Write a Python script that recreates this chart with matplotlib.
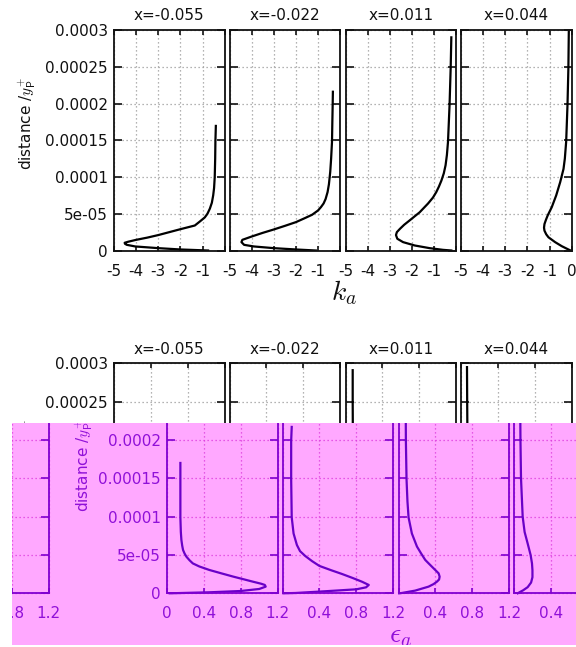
import matplotlib
matplotlib.use('Agg')
import matplotlib.pyplot as plt
from matplotlib.patches import Rectangle
from matplotlib.transforms import Bbox, TransformedBbox

plt.rcParams['font.family'] = ['DejaVu Sans']
plt.rcParams['mathtext.fontset'] = 'cm'
plt.rcParams['axes.unicode_minus'] = False

W, H = 576, 647

# ---------------- data ----------------
stations = ['x=-0.055', 'x=-0.022', 'x=0.011', 'x=0.044']

ytick_vals = [0, 5e-5, 1e-4, 1.5e-4, 2e-4, 2.5e-4, 3e-4]
ytick_labels = ['0', '5e-05', '0.0001', '0.00015', '0.0002', '0.00025', '0.0003']
# labels of the untinted lower row that stay above the tinted band
ytick_labels_upper_only = ['', '', '', '', '', '0.00025', '0.0003']

ka_ticks = [-5, -4, -3, -2, -1, 0]
ka_labels_inner = ['-5', '-4', '-3', '-2', '-1', '']
ka_labels_last = ['-5', '-4', '-3', '-2', '-1', '0']

eps_ticks = [0, 0.4, 0.8, 1.2]
eps_labels_first = ['0', '0.4', '0.8', '1.2']
eps_labels_other = ['', '0.4', '0.8', '1.2']
eps_labels_none = ['', '', '', '']

# k_a profiles (distance, value)
ka1_d = [1.695e-4, 1.48e-4, 1.25e-4, 1.0e-4, 8.5e-5, 7.5e-5, 6.5e-5, 5.7e-5, 5.0e-5, 4.5e-5,
         4.0e-5, 3.4e-5, 2.9e-5, 2.5e-5, 2.1e-5, 1.75e-5, 1.45e-5, 1.2e-5, 1.05e-5, 9e-6,
         7.7e-6, 5.5e-6, 3.2e-6, 1.4e-6, 0]
ka1_v = [-0.40, -0.42, -0.43, -0.45, -0.48, -0.52, -0.58, -0.67, -0.78, -0.90,
         -1.10, -1.35, -2.0, -2.5, -3.0, -3.5, -4.0, -4.35, -4.52, -4.50,
         -4.42, -4.04, -3.0, -2.0, -0.75]

ka2_d = [2.16e-4, 1.98e-4, 1.75e-4, 1.48e-4, 1.25e-4, 1.07e-4, 9.0e-5, 7.95e-5, 7.0e-5, 6.4e-5,
         5.9e-5, 5.45e-5, 4.86e-5, 4.4e-5, 3.86e-5, 3.35e-5, 2.86e-5, 2.4e-5, 1.9e-5, 1.45e-5,
         1.14e-5, 7.7e-6, 5.5e-6, 3.2e-6, 1.4e-6, 0]
ka2_v = [-0.33, -0.34, -0.355, -0.37, -0.41, -0.45, -0.51, -0.57, -0.66, -0.75,
         -0.87, -1.0, -1.27, -1.6, -2.0, -2.5, -3.0, -3.5, -4.0, -4.42,
         -4.46, -4.34, -3.9, -3.0, -2.0, -1.1]

ka3_d = [2.9e-4, 2.48e-4, 1.98e-4, 1.48e-4, 1.3e-4, 1.16e-4, 1.05e-4, 9.5e-5, 8.7e-5, 7.95e-5,
         7.2e-5, 6.4e-5, 5.2e-5, 4.1e-5, 3.5e-5, 2.95e-5, 2.5e-5, 2.1e-5, 1.6e-5, 1.14e-5,
         6.8e-6, 3.2e-6, 9e-7, 0]
ka3_v = [-0.22, -0.25, -0.30, -0.37, -0.42, -0.48, -0.56, -0.67, -0.78, -0.90,
         -1.05, -1.27, -1.65, -2.1, -2.35, -2.54, -2.68, -2.72, -2.66, -2.4,
         -1.87, -1.2, -0.6, -0.22]

ka4_d = [3.0e-4, 2.48e-4, 1.98e-4, 1.48e-4, 1.25e-4, 1.11e-4, 9.3e-5, 7.5e-5, 5.9e-5, 4.8e-5,
         4.2e-5, 3.6e-5, 3.1e-5, 2.7e-5, 2.2e-5, 1.8e-5, 1.14e-5, 5.9e-6, 1.4e-6, 0]
ka4_v = [-0.13, -0.15, -0.19, -0.25, -0.31, -0.37, -0.52, -0.70, -0.90, -1.08,
         -1.16, -1.23, -1.25, -1.23, -1.15, -1.05, -0.75, -0.45, -0.15, -0.05]

# epsilon_a profiles (distance, value)
ep1_d = [1.7e-4, 1.3e-4, 9.9e-5, 8.0e-5, 6.96e-5, 6.2e-5, 5.65e-5, 5.2e-5, 4.78e-5, 4.3e-5,
         3.9e-5, 3.5e-5, 3.04e-5, 2.6e-5, 2.17e-5, 1.8e-5, 1.52e-5, 1.25e-5, 1.09e-5, 8.7e-6,
         5.65e-6, 3e-6, 1.3e-6, 0]
ep1_v = [0.145, 0.145, 0.145, 0.15, 0.156, 0.165, 0.174, 0.19, 0.21, 0.245,
         0.28, 0.35, 0.46, 0.59, 0.72, 0.84, 0.93, 1.02, 1.06, 1.07,
         1.0, 0.8, 0.46, 0.03]

ep2_d = [2.17e-4, 1.99e-4, 1.49e-4, 9.9e-5, 7.8e-5, 6.3e-5, 5.5e-5, 4.87e-5, 4.2e-5, 3.57e-5,
         3.0e-5, 2.52e-5, 2.0e-5, 1.52e-5, 1.09e-5, 7.8e-6, 5.2e-6, 2.2e-6, 4e-7, 0]
ep2_v = [0.10, 0.094, 0.094, 0.10, 0.12, 0.156, 0.19, 0.246, 0.32, 0.40,
         0.53, 0.645, 0.76, 0.86, 0.935, 0.906, 0.80, 0.40, 0.14, 0.01]

ep3_d = [2.91e-4, 2.5e-4, 1.99e-4, 1.49e-4, 1.2e-4, 9.9e-5, 7.8e-5, 6.1e-5, 5.2e-5, 4.35e-5,
         3.8e-5, 3.26e-5, 2.6e-5, 2.17e-5, 1.8e-5, 1.52e-5, 1.2e-5, 8.7e-6, 3.5e-6, 4e-7, 0]
ep3_v = [0.078, 0.078, 0.08, 0.087, 0.097, 0.109, 0.145, 0.2, 0.245, 0.29,
         0.335, 0.38, 0.435, 0.446, 0.44, 0.417, 0.38, 0.326, 0.18, 0.036, 0.007]

ep4_d = [2.95e-4, 2.5e-4, 2.0e-4, 1.5e-4, 1.0e-4, 8.0e-5, 6.5e-5, 5.0e-5, 3.9e-5, 3.0e-5,
         2.1e-5, 1.4e-5, 8e-6, 4e-6, 0]
ep4_v = [0.065, 0.067, 0.07, 0.076, 0.094, 0.115, 0.148, 0.18, 0.195, 0.2,
         0.2, 0.185, 0.148, 0.1, 0.04]

ka_d = [ka1_d, ka2_d, ka3_d, ka4_d]
ka_v = [ka1_v, ka2_v, ka3_v, ka4_v]
ep_d = [ep1_d, ep2_d, ep3_d, ep4_d]
ep_v = [ep1_v, ep2_v, ep3_v, ep4_v]

# ---------------- layout (pixels) ----------------
lefts = [114, 229.5, 345.5, 461]
pw = 110.7
top_row = (30, 220.5)      # top, height
bot_row = (363.3, 230.0)
shift = 53                 # horizontal offset of the tinted copy
mag = (12, 423, 576, 645)  # tinted band x0, y0, x1, y1 (pixels from top-left)

BLACK = dict(fg='#111111', text='#111111', grid='#9a9a9a', line='#000000')
PURP = dict(fg='#8000d0', text='#9010d8', grid='#dd3ddd', line='#6a00c8')

fig = plt.figure(figsize=(W / 100, H / 100), dpi=100)


def add_ax(left, top, width, height):
    return fig.add_axes([left / W, 1 - (top + height) / H, width / W, height / H])


def panel(left, rowspec, xlim, xticks, xlabels, ylabels, title, d, v, col, z=0):
    top, height = rowspec
    ax = add_ax(left, top, pw, height)
    ax.set_zorder(z)
    ax.set_facecolor('none')
    ax.plot(v, d, color=col['line'], lw=1.6, solid_joinstyle='round')
    ax.set_xlim(*xlim)
    ax.set_ylim(0, 3e-4)
    ax.set_xticks(xticks, xlabels)
    ax.set_yticks(ytick_vals, ylabels if ylabels is not None else [''] * len(ytick_vals))
    ax.tick_params(axis='x', direction='in', top=True, bottom=True, length=3.8, width=1.2,
                   pad=9.5, labelsize=11, colors=col['fg'], labelcolor=col['text'])
    ax.tick_params(axis='y', direction='in', left=True, right=True, length=5.8, width=1.2,
                   pad=4.5, labelsize=11, colors=col['fg'], labelcolor=col['text'])
    ax.grid(True, linestyle=(0, (1, 2.2)), linewidth=0.9, color=col['grid'])
    for s in ax.spines.values():
        s.set_linewidth(1.3)
        s.set_color(col['fg'])
    ax.set_title(title, fontsize=11, pad=7, color=col['text'])
    ax.xaxis.get_major_ticks()
    ax.yaxis.get_major_ticks()
    return ax


ylab = r'distance /$y^{+}_{\mathsf{P}}$'

# ---- top row: k_a ----
for i in range(4):
    labs = ka_labels_last if i == 3 else ka_labels_inner
    panel(lefts[i], top_row, (-5, 0), ka_ticks, labs, ytick_labels if i == 0 else None,
          stations[i], ka_d[i], ka_v[i], BLACK)
fig.text(27 / W, 1 - 124 / H, ylab, rotation=90, ha='center', va='center', fontsize=11,
         color=BLACK['text'])
fig.text(344 / W, 1 - 300 / H, r'$k_a$', ha='center', va='baseline', fontsize=20,
         color=BLACK['text'])

# ---- bottom row: epsilon_a (untinted part, mostly hidden below the band) ----
for i in range(4):
    panel(lefts[i], bot_row, (0, 1.2), eps_ticks, eps_labels_none,
          ytick_labels_upper_only if i == 0 else None, stations[i], ep_d[i], ep_v[i], BLACK)
fig.text(31 / W, 1 - 466 / H, ylab, rotation=90, ha='center', va='center', fontsize=11,
         color=BLACK['text'])

# ---- tinted band ----
fig.add_artist(Rectangle((mag[0] / W, 1 - mag[3] / H), (mag[2] - mag[0]) / W, (mag[3] - mag[1]) / H,
                         transform=fig.transFigure, facecolor='#ffa8ff', edgecolor='none', zorder=5))
clip = TransformedBbox(Bbox.from_extents(mag[0] / W, 1 - mag[3] / H, mag[2] / W, 1 - mag[1] / H),
                       fig.transFigure)

tinted = []
for i in range(4):
    labs = eps_labels_first if i == 0 else eps_labels_other
    tinted.append(panel(lefts[i] + shift, bot_row, (0, 1.2), eps_ticks, labs,
                        ytick_labels if i == 0 else None, '', ep_d[i], ep_v[i], PURP, z=10))
# wrapped copy of the last panel at the left edge
tinted.append(panel(lefts[3] + shift - W, bot_row, (0, 1.2), eps_ticks, eps_labels_other, None,
                    '', ep_d[3], ep_v[3], PURP, z=10))

for ax in tinted:
    for a in ax.findobj():
        if a is ax:
            continue
        a.set_clip_box(clip)
        a.set_clip_on(True)

t1 = fig.text((31 + shift) / W, 1 - 466 / H, ylab, rotation=90, ha='center', va='center',
              fontsize=11, color=PURP['text'], zorder=20)
t2 = fig.text((348 + shift) / W, 1 - 642 / H, r'$\epsilon_a$', ha='center', va='baseline',
              fontsize=20, color=PURP['text'], zorder=20)
for t in (t1, t2):
    t.set_clip_box(clip)
    t.set_clip_on(True)

fig.savefig('out.png', dpi=100)
